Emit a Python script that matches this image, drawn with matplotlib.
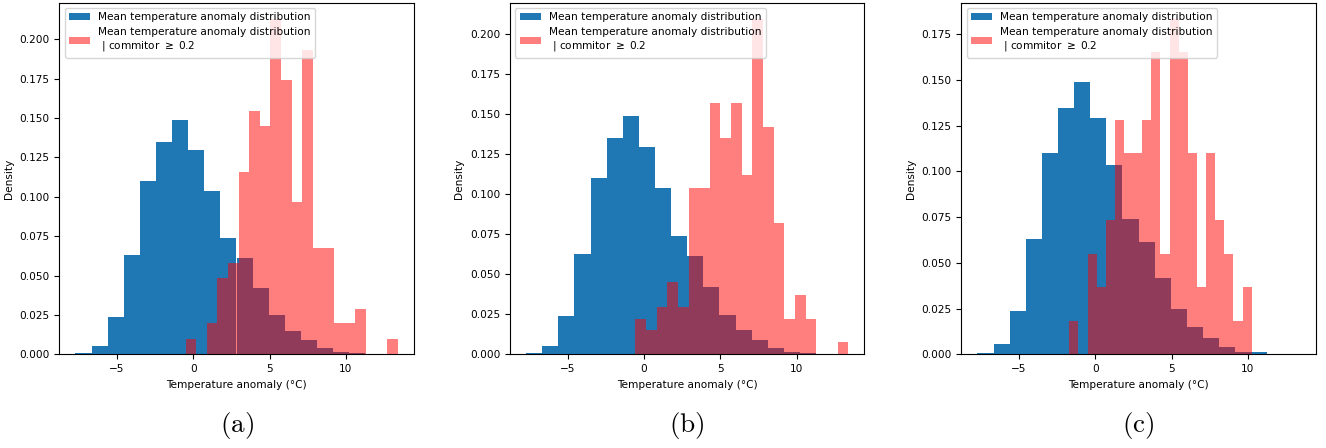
import numpy as np
import matplotlib
matplotlib.use("Agg")
import matplotlib.pyplot as plt

plt.rcParams['font.size'] = 7.6
plt.rcParams['mathtext.fontset'] = 'dejavusans'

# Blue: full distribution (same in all panels), 20 bins
blue_edges = np.linspace(-7.72, 13.38, 21)
blue_density = [0.0007, 0.0054, 0.0237, 0.0628, 0.1098, 0.1347, 0.1487, 0.1294,
                0.1037, 0.0737, 0.0613, 0.0418, 0.0248, 0.0150, 0.0091, 0.0042,
                0.0012, 0.0011, 0.0, 0.0004]

# Red: conditional distributions, 20 bins each
red_edges_a = np.linspace(-0.50, 13.38, 21)
red_density_a = [0.0095, 0.0, 0.0197, 0.0484, 0.0577, 0.1159, 0.1545, 0.1448,
                 0.2125, 0.1740, 0.0966, 0.1930, 0.0672, 0.0672, 0.0197, 0.0197,
                 0.0288, 0.0, 0.0, 0.0095]

red_edges_b = np.linspace(-0.57, 13.38, 21)
red_density_b = [0.0220, 0.0152, 0.0298, 0.0450, 0.0298, 0.1040, 0.1040, 0.1570,
                 0.1350, 0.1570, 0.1120, 0.2090, 0.1420, 0.0820, 0.0220, 0.0370,
                 0.0220, 0.0, 0.0, 0.0075]

red_edges_c = np.linspace(-1.70, 10.24, 21)
red_density_c = [0.0182, 0.0, 0.0550, 0.0367, 0.0735, 0.1280, 0.1100, 0.1100,
                 0.1280, 0.1650, 0.0550, 0.1830, 0.1650, 0.1100, 0.0367, 0.1100,
                 0.0735, 0.0550, 0.0182, 0.0367]

panel_labels = ['(a)', '(b)', '(c)']
blue_label = 'Mean temperature anomaly distribution'
red_label = 'Mean temperature anomaly distribution\n | commitor $\\geq$ 0.2'

fig = plt.figure(figsize=(13.26, 4.48), dpi=100)
lefts = [59.3, 510.0, 961.3]
W, H = 1326.0, 448.0
reds = [(red_edges_a, red_density_a), (red_edges_b, red_density_b), (red_edges_c, red_density_c)]

for left, (redges, rdens), plab in zip(lefts, reds, panel_labels):
    ax = fig.add_axes([left / W, (H - 354.3) / H, 354.4 / W, 351.6 / H])
    ax.hist(blue_edges[:-1], bins=blue_edges, weights=blue_density,
            color='#1f77b4', label=blue_label)
    ax.hist(redges[:-1], bins=redges, weights=rdens,
            color='red', alpha=0.5, label=red_label)
    ax.set_xlabel('Temperature anomaly (°C)')
    ax.set_ylabel('Density')
    ax.legend(loc='upper left')
    cx = (left + 354.4 / 2) / W
    fig.text(cx, 1 - 425.0 / H, r'$\mathrm{' + plab + '}$', ha='center', va='center',
             fontsize=19.5, math_fontfamily='cm')

fig.savefig('out.png', dpi=100)
